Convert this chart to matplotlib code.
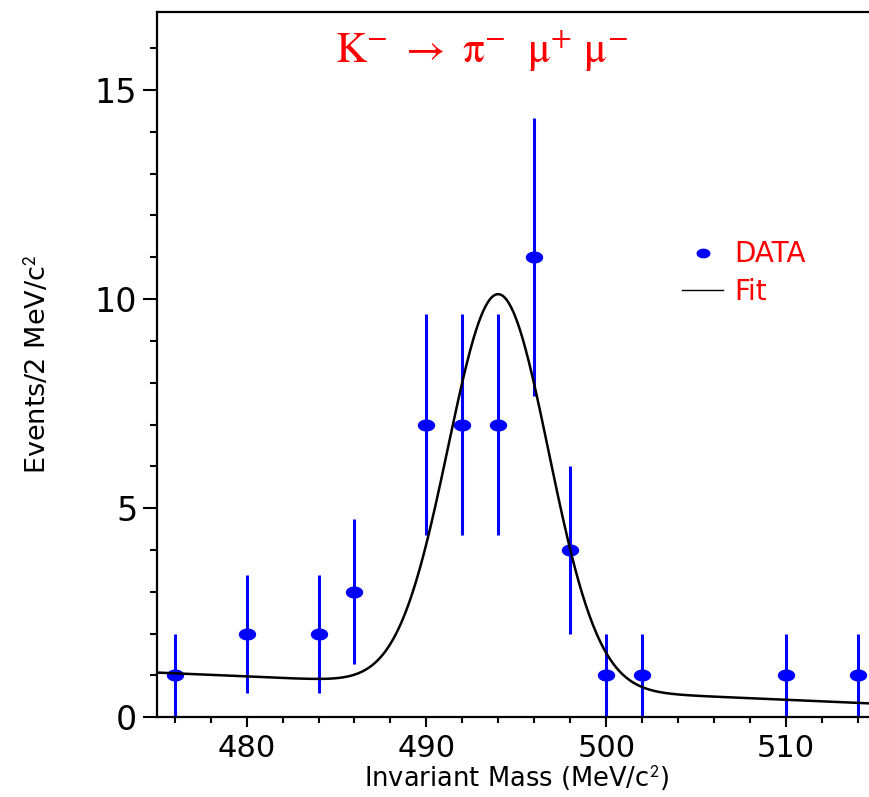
import numpy as np
import matplotlib.pyplot as plt
from matplotlib.path import Path
from matplotlib.lines import Line2D

# measured points: bin centre (MeV/c^2), events per 2 MeV/c^2, error
mass = [476, 480, 484, 486, 490, 492, 494, 496, 498, 500, 502, 510, 514]
events = [1, 2, 2, 3, 7, 7, 7, 11, 4, 1, 1, 1, 1]
errors = [1.0, 1.41, 1.41, 1.73, 2.65, 2.65, 2.65, 3.32, 2.0, 1.0, 1.0, 1.0, 1.0]

# fit result: gaussian peak on a linear background
peak_mean = 494.0
peak_sigma = 2.79
peak_height = 9.4
bkg_start = 1.07   # background at 475 MeV/c^2
bkg_slope = -0.0186

x_ticks = [480, 490, 500, 510]
y_ticks = [0, 5, 10, 15]

plt.rcParams['mathtext.fontset'] = 'stix'

fig = plt.figure(figsize=(8.7, 7.97), dpi=100)
ax = fig.add_axes([0.1801, 0.1000, 0.8268, 0.8853])

# ellipse shaped marker, wider than tall
t = np.linspace(0, 2 * np.pi, 60)
ellipse = Path(np.column_stack([1.5 * np.cos(t), np.sin(t)]), closed=True)

ax.errorbar(mass, events, yerr=errors, fmt='none', ecolor='#0000ff',
            elinewidth=2.2, capsize=0, zorder=2)
ax.plot(mass, events, linestyle='none', marker=ellipse, markersize=11.5,
        color='#0000ff', zorder=3)

xf = np.linspace(475, 515, 600)
fit = bkg_start + bkg_slope * (xf - 475) + \
    peak_height * np.exp(-0.5 * ((xf - peak_mean) / peak_sigma) ** 2)
ax.plot(xf, fit, color='black', linewidth=1.8, zorder=4)

ax.set_xlim(475, 515)
ax.set_ylim(0, 16.87)

ax.set_xticks(x_ticks)
ax.set_xticks(np.arange(476, 515, 2), minor=True)
ax.set_yticks(y_ticks)
ax.set_yticks(np.arange(0, 17, 1), minor=True)

ax.spines['right'].set_visible(False)
for s in ['left', 'top', 'bottom']:
    ax.spines[s].set_linewidth(1.6)

ax.tick_params(axis='both', which='major', width=1.5, direction='out')
ax.tick_params(axis='both', which='minor', width=1.5, direction='out')
ax.tick_params(axis='y', which='major', length=10, pad=4, labelsize=24)
ax.tick_params(axis='y', which='minor', length=5)
ax.tick_params(axis='x', which='major', length=7, pad=5, labelsize=22)
ax.tick_params(axis='x', which='minor', length=4)

ax.set_xlabel(r'Invariant Mass (MeV/c$^{\mathsf{2}}$)', fontsize=18.5, labelpad=0)
ax.set_ylabel(r'Events/2 MeV/c$^{\mathsf{2}}$', fontsize=19.5, labelpad=31)

ax.text(0.452, 0.9277,
        r'$\mathrm{K}^{-}\ \rightarrow\ \mathrm{\pi}^{-}\ \ \mathrm{\mu}^{+}\ \mathrm{\mu}^{-}$',
        transform=ax.transAxes, color='red', fontsize=31, ha='center', va='baseline')

handles = [Line2D([], [], linestyle='none', marker=ellipse, markersize=9, color='#0000ff'),
           Line2D([], [], color='black', linewidth=1.0)]
ax.legend(handles, ['DATA', 'Fit'], loc='upper left', bbox_to_anchor=(0.730, 0.676),
          frameon=False, fontsize=20, labelcolor='red', handlelength=1.5,
          handletextpad=0.4, labelspacing=0.35, borderpad=0, borderaxespad=0)

fig.savefig('out.png', dpi=100)
